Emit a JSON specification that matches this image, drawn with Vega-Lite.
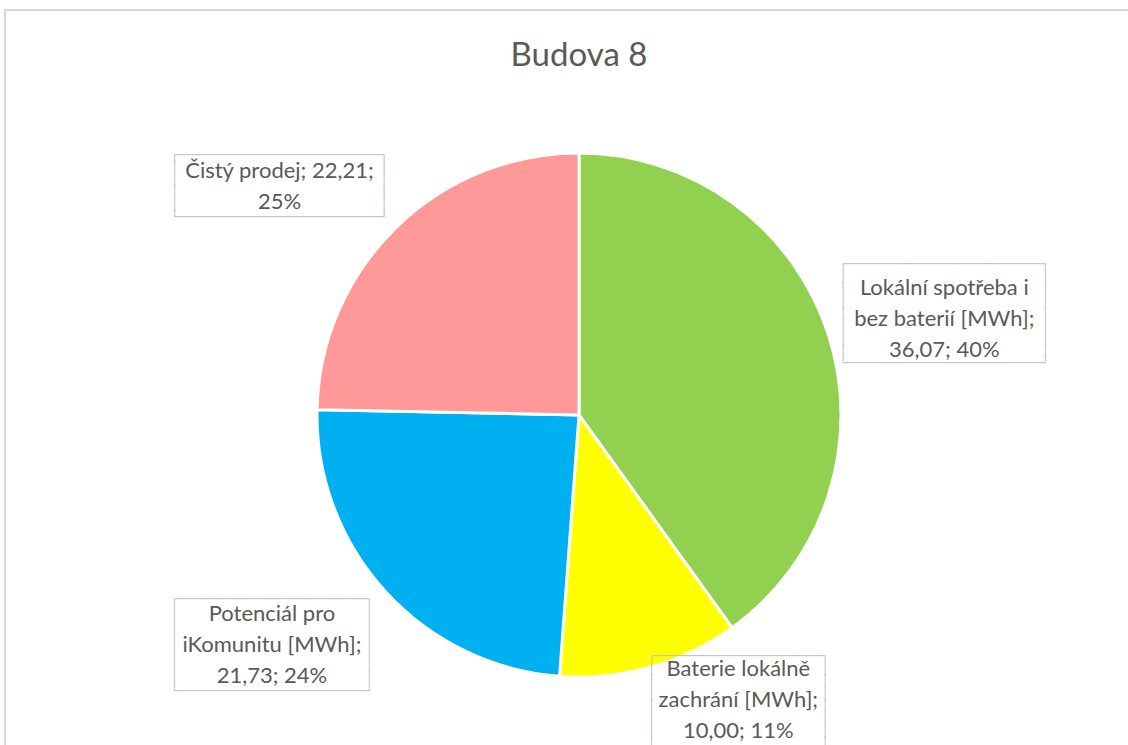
{
  "$schema": "https://vega.github.io/schema/vega-lite/v6.json",
  "width": 1148,
  "height": 810,
  "autosize": {"type": "none"},
  "padding": {"left": 5, "top": 10, "right": 0, "bottom": 0},
  "background": "white",
  "view": {"stroke": "#d9d9d9", "strokeWidth": 2, "fill": "white"},
  "title": {
    "text": "Budova 8",
    "font": "Lato",
    "fontSize": 33,
    "fontWeight": "normal",
    "color": "#595959",
    "anchor": "middle",
    "frame": "group",
    "baseline": "alphabetic",
    "offset": -57,
    "dy": 32
  },
  "data": {
    "values": [
      {"kategorie": "Lokální spotřeba i bez baterií [MWh]", "hodnota": 36.07, "poradi": 1, "label": ["Lokální spotřeba i", "bez baterií [MWh];", "36,07; 40%"]},
      {"kategorie": "Baterie lokálně zachrání [MWh]", "hodnota": 10.00, "poradi": 2, "label": ["Baterie lokálně", "zachrání [MWh];", "10,00; 11%"]},
      {"kategorie": "Potenciál pro iKomunitu [MWh]", "hodnota": 21.73, "poradi": 3, "label": ["Potenciál pro", "iKomunitu [MWh];", "21,73; 24%"]},
      {"kategorie": "Čistý prodej", "hodnota": 22.21, "poradi": 4, "label": ["Čistý prodej; 22,21;", "25%"]}
    ]
  },
  "encoding": {
    "theta": {"field": "hodnota", "type": "quantitative", "stack": true},
    "order": {"field": "poradi", "type": "quantitative"}
  },
  "layer": [
    {
      "mark": {"type": "arc", "radius": 262, "stroke": "white", "strokeWidth": 3},
      "encoding": {
        "color": {
          "field": "kategorie",
          "type": "nominal",
          "scale": {
            "domain": ["Lokální spotřeba i bez baterií [MWh]", "Baterie lokálně zachrání [MWh]", "Potenciál pro iKomunitu [MWh]", "Čistý prodej"],
            "range": ["#92D050", "#FFFF00", "#00B0F0", "#FF9999"]
          },
          "legend": null
        }
      }
    },
    {
      "mark": {"type": "text", "radius": 379, "thetaOffset": 0.042, "dy": -49.5, "font": "DejaVu Sans Mono", "fontSize": 12, "lineHeight": 12.375, "color": "#BFBFBF", "align": "center", "baseline": "middle",
        "text": [
          "\u250c\u2500\u2500\u2500\u2500\u2500\u2500\u2500\u2500\u2500\u2500\u2500\u2500\u2500\u2500\u2500\u2500\u2500\u2500\u2500\u2500\u2500\u2500\u2500\u2500\u2500\u2500\u2500\u2510",
          "\u2502\u00a0\u00a0\u00a0\u00a0\u00a0\u00a0\u00a0\u00a0\u00a0\u00a0\u00a0\u00a0\u00a0\u00a0\u00a0\u00a0\u00a0\u00a0\u00a0\u00a0\u00a0\u00a0\u00a0\u00a0\u00a0\u00a0\u00a0\u2502",
          "\u2502\u00a0\u00a0\u00a0\u00a0\u00a0\u00a0\u00a0\u00a0\u00a0\u00a0\u00a0\u00a0\u00a0\u00a0\u00a0\u00a0\u00a0\u00a0\u00a0\u00a0\u00a0\u00a0\u00a0\u00a0\u00a0\u00a0\u00a0\u2502",
          "\u2502\u00a0\u00a0\u00a0\u00a0\u00a0\u00a0\u00a0\u00a0\u00a0\u00a0\u00a0\u00a0\u00a0\u00a0\u00a0\u00a0\u00a0\u00a0\u00a0\u00a0\u00a0\u00a0\u00a0\u00a0\u00a0\u00a0\u00a0\u2502",
          "\u2502\u00a0\u00a0\u00a0\u00a0\u00a0\u00a0\u00a0\u00a0\u00a0\u00a0\u00a0\u00a0\u00a0\u00a0\u00a0\u00a0\u00a0\u00a0\u00a0\u00a0\u00a0\u00a0\u00a0\u00a0\u00a0\u00a0\u00a0\u2502",
          "\u2502\u00a0\u00a0\u00a0\u00a0\u00a0\u00a0\u00a0\u00a0\u00a0\u00a0\u00a0\u00a0\u00a0\u00a0\u00a0\u00a0\u00a0\u00a0\u00a0\u00a0\u00a0\u00a0\u00a0\u00a0\u00a0\u00a0\u00a0\u2502",
          "\u2502\u00a0\u00a0\u00a0\u00a0\u00a0\u00a0\u00a0\u00a0\u00a0\u00a0\u00a0\u00a0\u00a0\u00a0\u00a0\u00a0\u00a0\u00a0\u00a0\u00a0\u00a0\u00a0\u00a0\u00a0\u00a0\u00a0\u00a0\u2502",
          "\u2502\u00a0\u00a0\u00a0\u00a0\u00a0\u00a0\u00a0\u00a0\u00a0\u00a0\u00a0\u00a0\u00a0\u00a0\u00a0\u00a0\u00a0\u00a0\u00a0\u00a0\u00a0\u00a0\u00a0\u00a0\u00a0\u00a0\u00a0\u2502",
          "\u2514\u2500\u2500\u2500\u2500\u2500\u2500\u2500\u2500\u2500\u2500\u2500\u2500\u2500\u2500\u2500\u2500\u2500\u2500\u2500\u2500\u2500\u2500\u2500\u2500\u2500\u2500\u2500\u2518"
        ]},
      "encoding": {
        "opacity": {"condition": {"test": "datum.poradi == 1", "value": 1}, "value": 0}
      }
    },
    {
      "mark": {"type": "text", "radius": 326, "thetaOffset": -0.236, "dy": -43, "font": "DejaVu Sans Mono", "fontSize": 12, "lineHeight": 12.375, "color": "#BFBFBF", "align": "center", "baseline": "middle",
        "text": [
          "\u250c\u2500\u2500\u2500\u2500\u2500\u2500\u2500\u2500\u2500\u2500\u2500\u2500\u2500\u2500\u2500\u2500\u2500\u2500\u2500\u2500\u2500\u2500\u2500\u2510",
          "\u2502\u00a0\u00a0\u00a0\u00a0\u00a0\u00a0\u00a0\u00a0\u00a0\u00a0\u00a0\u00a0\u00a0\u00a0\u00a0\u00a0\u00a0\u00a0\u00a0\u00a0\u00a0\u00a0\u00a0\u2502",
          "\u2502\u00a0\u00a0\u00a0\u00a0\u00a0\u00a0\u00a0\u00a0\u00a0\u00a0\u00a0\u00a0\u00a0\u00a0\u00a0\u00a0\u00a0\u00a0\u00a0\u00a0\u00a0\u00a0\u00a0\u2502",
          "\u2502\u00a0\u00a0\u00a0\u00a0\u00a0\u00a0\u00a0\u00a0\u00a0\u00a0\u00a0\u00a0\u00a0\u00a0\u00a0\u00a0\u00a0\u00a0\u00a0\u00a0\u00a0\u00a0\u00a0\u2502",
          "\u2502\u00a0\u00a0\u00a0\u00a0\u00a0\u00a0\u00a0\u00a0\u00a0\u00a0\u00a0\u00a0\u00a0\u00a0\u00a0\u00a0\u00a0\u00a0\u00a0\u00a0\u00a0\u00a0\u00a0\u2502",
          "\u2502\u00a0\u00a0\u00a0\u00a0\u00a0\u00a0\u00a0\u00a0\u00a0\u00a0\u00a0\u00a0\u00a0\u00a0\u00a0\u00a0\u00a0\u00a0\u00a0\u00a0\u00a0\u00a0\u00a0\u2502",
          "\u2502\u00a0\u00a0\u00a0\u00a0\u00a0\u00a0\u00a0\u00a0\u00a0\u00a0\u00a0\u00a0\u00a0\u00a0\u00a0\u00a0\u00a0\u00a0\u00a0\u00a0\u00a0\u00a0\u00a0\u2502",
          "\u2502\u00a0\u00a0\u00a0\u00a0\u00a0\u00a0\u00a0\u00a0\u00a0\u00a0\u00a0\u00a0\u00a0\u00a0\u00a0\u00a0\u00a0\u00a0\u00a0\u00a0\u00a0\u00a0\u00a0\u2502",
          "\u2514\u2500\u2500\u2500\u2500\u2500\u2500\u2500\u2500\u2500\u2500\u2500\u2500\u2500\u2500\u2500\u2500\u2500\u2500\u2500\u2500\u2500\u2500\u2500\u2518"
        ]},
      "encoding": {
        "opacity": {"condition": {"test": "datum.poradi == 2", "value": 1}, "value": 0}
      }
    },
    {
      "mark": {"type": "text", "radius": 382, "thetaOffset": 0.101, "dy": -43, "font": "DejaVu Sans Mono", "fontSize": 12, "lineHeight": 13.14, "color": "#BFBFBF", "align": "center", "baseline": "middle",
        "text": [
          "\u250c\u2500\u2500\u2500\u2500\u2500\u2500\u2500\u2500\u2500\u2500\u2500\u2500\u2500\u2500\u2500\u2500\u2500\u2500\u2500\u2500\u2500\u2500\u2500\u2500\u2500\u2500\u2510",
          "\u2502\u00a0\u00a0\u00a0\u00a0\u00a0\u00a0\u00a0\u00a0\u00a0\u00a0\u00a0\u00a0\u00a0\u00a0\u00a0\u00a0\u00a0\u00a0\u00a0\u00a0\u00a0\u00a0\u00a0\u00a0\u00a0\u00a0\u2502",
          "\u2502\u00a0\u00a0\u00a0\u00a0\u00a0\u00a0\u00a0\u00a0\u00a0\u00a0\u00a0\u00a0\u00a0\u00a0\u00a0\u00a0\u00a0\u00a0\u00a0\u00a0\u00a0\u00a0\u00a0\u00a0\u00a0\u00a0\u2502",
          "\u2502\u00a0\u00a0\u00a0\u00a0\u00a0\u00a0\u00a0\u00a0\u00a0\u00a0\u00a0\u00a0\u00a0\u00a0\u00a0\u00a0\u00a0\u00a0\u00a0\u00a0\u00a0\u00a0\u00a0\u00a0\u00a0\u00a0\u2502",
          "\u2502\u00a0\u00a0\u00a0\u00a0\u00a0\u00a0\u00a0\u00a0\u00a0\u00a0\u00a0\u00a0\u00a0\u00a0\u00a0\u00a0\u00a0\u00a0\u00a0\u00a0\u00a0\u00a0\u00a0\u00a0\u00a0\u00a0\u2502",
          "\u2502\u00a0\u00a0\u00a0\u00a0\u00a0\u00a0\u00a0\u00a0\u00a0\u00a0\u00a0\u00a0\u00a0\u00a0\u00a0\u00a0\u00a0\u00a0\u00a0\u00a0\u00a0\u00a0\u00a0\u00a0\u00a0\u00a0\u2502",
          "\u2502\u00a0\u00a0\u00a0\u00a0\u00a0\u00a0\u00a0\u00a0\u00a0\u00a0\u00a0\u00a0\u00a0\u00a0\u00a0\u00a0\u00a0\u00a0\u00a0\u00a0\u00a0\u00a0\u00a0\u00a0\u00a0\u00a0\u2502",
          "\u2514\u2500\u2500\u2500\u2500\u2500\u2500\u2500\u2500\u2500\u2500\u2500\u2500\u2500\u2500\u2500\u2500\u2500\u2500\u2500\u2500\u2500\u2500\u2500\u2500\u2500\u2500\u2518"
        ]},
      "encoding": {
        "opacity": {"condition": {"test": "datum.poradi == 3", "value": 1}, "value": 0}
      }
    },
    {
      "mark": {"type": "text", "radius": 377, "thetaOffset": -0.143, "dy": -31, "font": "DejaVu Sans Mono", "fontSize": 12, "lineHeight": 12.4, "color": "#BFBFBF", "align": "center", "baseline": "middle",
        "text": [
          "\u250c\u2500\u2500\u2500\u2500\u2500\u2500\u2500\u2500\u2500\u2500\u2500\u2500\u2500\u2500\u2500\u2500\u2500\u2500\u2500\u2500\u2500\u2500\u2500\u2500\u2500\u2500\u2500\u2500\u2510",
          "\u2502\u00a0\u00a0\u00a0\u00a0\u00a0\u00a0\u00a0\u00a0\u00a0\u00a0\u00a0\u00a0\u00a0\u00a0\u00a0\u00a0\u00a0\u00a0\u00a0\u00a0\u00a0\u00a0\u00a0\u00a0\u00a0\u00a0\u00a0\u00a0\u2502",
          "\u2502\u00a0\u00a0\u00a0\u00a0\u00a0\u00a0\u00a0\u00a0\u00a0\u00a0\u00a0\u00a0\u00a0\u00a0\u00a0\u00a0\u00a0\u00a0\u00a0\u00a0\u00a0\u00a0\u00a0\u00a0\u00a0\u00a0\u00a0\u00a0\u2502",
          "\u2502\u00a0\u00a0\u00a0\u00a0\u00a0\u00a0\u00a0\u00a0\u00a0\u00a0\u00a0\u00a0\u00a0\u00a0\u00a0\u00a0\u00a0\u00a0\u00a0\u00a0\u00a0\u00a0\u00a0\u00a0\u00a0\u00a0\u00a0\u00a0\u2502",
          "\u2502\u00a0\u00a0\u00a0\u00a0\u00a0\u00a0\u00a0\u00a0\u00a0\u00a0\u00a0\u00a0\u00a0\u00a0\u00a0\u00a0\u00a0\u00a0\u00a0\u00a0\u00a0\u00a0\u00a0\u00a0\u00a0\u00a0\u00a0\u00a0\u2502",
          "\u2514\u2500\u2500\u2500\u2500\u2500\u2500\u2500\u2500\u2500\u2500\u2500\u2500\u2500\u2500\u2500\u2500\u2500\u2500\u2500\u2500\u2500\u2500\u2500\u2500\u2500\u2500\u2500\u2500\u2518"
        ]},
      "encoding": {
        "opacity": {"condition": {"test": "datum.poradi == 4", "value": 1}, "value": 0}
      }
    },
    {
      "mark": {"type": "text", "radius": 379, "thetaOffset": 0.042, "dy": -26, "font": "Lato", "fontSize": 22, "lineHeight": 31, "color": "#595959", "align": "center", "baseline": "middle"},
      "encoding": {
        "text": {"field": "label"},
        "opacity": {"condition": {"test": "datum.poradi == 1", "value": 1}, "value": 0}
      }
    },
    {
      "mark": {"type": "text", "radius": 326, "thetaOffset": -0.236, "dy": -30, "font": "Lato", "fontSize": 22, "lineHeight": 31, "color": "#595959", "align": "center", "baseline": "middle"},
      "encoding": {
        "text": {"field": "label"},
        "opacity": {"condition": {"test": "datum.poradi == 2", "value": 1}, "value": 0}
      }
    },
    {
      "mark": {"type": "text", "radius": 382, "thetaOffset": 0.101, "dy": -28, "font": "Lato", "fontSize": 22, "lineHeight": 31, "color": "#595959", "align": "center", "baseline": "middle"},
      "encoding": {
        "text": {"field": "label"},
        "opacity": {"condition": {"test": "datum.poradi == 3", "value": 1}, "value": 0}
      }
    },
    {
      "mark": {"type": "text", "radius": 377, "thetaOffset": -0.143, "dy": -15, "font": "Lato", "fontSize": 22, "lineHeight": 31, "color": "#595959", "align": "center", "baseline": "middle"},
      "encoding": {
        "text": {"field": "label"},
        "opacity": {"condition": {"test": "datum.poradi == 4", "value": 1}, "value": 0}
      }
    }
  ]
}
